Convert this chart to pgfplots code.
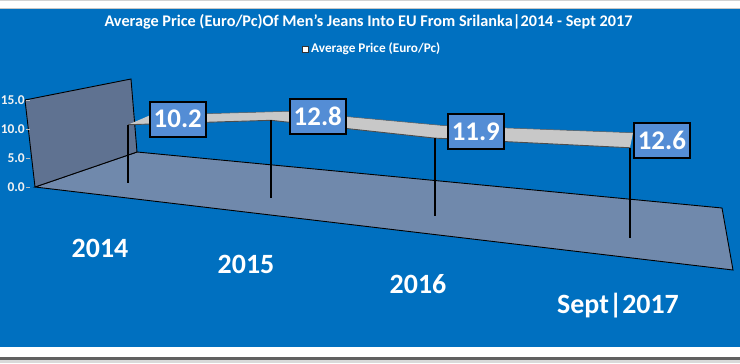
\documentclass[border=0pt]{standalone}
\usepackage{fontspec}
\setmainfont{Carlito}
\usepackage{pgfplots}
\usepackage{pgfplotstable}
\pgfplotsset{compat=1.18}
\usepgfplotslibrary{fillbetween}
\definecolor{bgblue}{RGB}{0,112,192}
\definecolor{wallc}{RGB}{95,114,145}
\definecolor{floorc}{RGB}{112,137,172}
\definecolor{ribbonc}{RGB}{200,200,200}
\definecolor{boxc}{RGB}{84,141,213}

% x = horizontal position of the category, v = value; dx/up = ribbon depth; lx/ly = label offset
\pgfplotstableread{
x v dx up lx ly
128 10.2 22 9.4 21 5.5
271 12.8 18 9.0 18 4
435 11.9 9 12.5 12 6.5
630 12.6 3 15.0 3 7.5
}\pricedata

\begin{document}
\begin{tikzpicture}[x=1bp,y=1bp]
\fill[white] (0,0) rectangle (740,363);
\fill[gray!35] (0,362) rectangle (740,363);
\fill[gray!45] (0,354) rectangle (740,355.2);
\fill[bgblue] (0,16) rectangle (740,354);
\fill[gray!75!black] (0,3) rectangle (740,6);
\fill[gray!30] (0,0) rectangle (740,3);

\node[text=white, font=\fontsize{16.3}{18}\selectfont\bfseries] at (368.5,341) {Average Price (Euro/Pc)Of Men's Jeans Into EU From Srilanka|2014 - Sept 2017};
\draw[fill=white, draw=black!80, line width=0.6bp] (302,311) rectangle (308,317);
\node[anchor=west, inner sep=0pt, text=white, font=\fontsize{13.3}{15}\selectfont\bfseries] at (311,314) {Average Price (Euro/Pc)};

% floor and side wall
\filldraw[fill=floorc, draw=black, line width=0.9bp] (35,176) -- (733,93) -- (722,155) -- (137,211) -- cycle;
\filldraw[fill=wallc, draw=black, line width=0.9bp] (35,176) -- (137,211) -- (131,284) -- (25,263) -- cycle;

\begin{axis}[
  at={(30bp,176bp)}, anchor=south west,
  scale only axis, width=10bp, height=87bp,
  xmin=0, xmax=1, ymin=0, ymax=15,
  axis line style={draw=none},
  xtick=\empty, ytick={0,5,10,15}, ytick pos=left,
  tick align=outside, major tick length=4bp,
  tick style={gray!50, line width=0.8bp},
  /pgf/number format/assume math mode=true,
  yticklabel style={font=\fontsize{13.5}{15}\selectfont\bfseries, text=white!90!gray,
    inner xsep=1bp, /pgf/number format/.cd, fixed, fixed zerofill, precision=1},
]
\addplot[draw=none, no markers] coordinates {(0,0) (1,15)};
\end{axis}

\begin{axis}[
  at={(0bp,194.3bp)}, anchor=origin, disabledatascaling,
  x={(1bp,-0.1098bp)}, y={(0bp,1bp)},
  xmin=0, xmax=740, ymin=0, ymax=130,
  clip=false,
  axis line style={draw=none},
  major tick length=0pt,
  ytick=\empty,
  xtick={100,246,418,618},
  xticklabels={2014,2015,2016,{Sept|2017}},
  xticklabel style={anchor=center, yshift=-69bp, text=white,
    font=\fontsize{28}{30}\selectfont\bfseries},
  /pgf/number format/assume math mode=true,
]
\addplot[draw=none, no markers, name path=front] table[x=x, y expr=\thisrow{v}*(5.69+0.00291*(\thisrow{x}-128))] {\pricedata};
\addplot[draw=none, no markers, name path=back] table[x expr=\thisrow{x}+\thisrow{dx},
   y expr=\thisrow{v}*(5.69+0.00291*(\thisrow{x}-128))+\thisrow{up}+0.1098*\thisrow{dx}] {\pricedata};
\addplot[fill=ribbonc, draw=none] fill between[of=front and back, on layer=main];
\addplot[gray!60!black, line width=0.9bp, no markers] table[x=x, y expr=\thisrow{v}*(5.69+0.00291*(\thisrow{x}-128))] {\pricedata};
\addplot[gray!70!black, line width=0.5bp, no markers] table[x expr=\thisrow{x}+\thisrow{dx},
   y expr=\thisrow{v}*(5.69+0.00291*(\thisrow{x}-128))+\thisrow{up}+0.1098*\thisrow{dx}] {\pricedata};
\addplot[draw=none, no markers,
  error bars/.cd, y dir=minus, y explicit, error mark=none,
  error bar style={draw=black, line width=1.8bp}]
  table[x=x, y expr=\thisrow{v}*(5.69+0.00291*(\thisrow{x}-128)),
        y error expr=\thisrow{v}*(5.69+0.00291*(\thisrow{x}-128))] {\pricedata};
\addplot[draw=none, no markers, point meta=explicit,
  visualization depends on={\thisrow{lx} \as \lx},
  visualization depends on={\thisrow{ly} \as \ly},
  nodes near coords={\pgfmathprintnumber[fixed, fixed zerofill, precision=1]{\pgfplotspointmeta}},
  every node near coord/.append style={anchor=west, xshift=\lx pt, yshift=\ly pt,
    draw=black, line width=1.6bp, fill=boxc, text=white,
    font=\fontsize{27}{29}\selectfont\bfseries, inner xsep=4bp,
    minimum height=35bp},
] table[x=x, y expr=\thisrow{v}*(5.69+0.00291*(\thisrow{x}-128)), meta=v] {\pricedata};
\end{axis}

\pgfresetboundingbox
\path[use as bounding box] (0,0) rectangle (740,363);
\end{tikzpicture}
\end{document}
